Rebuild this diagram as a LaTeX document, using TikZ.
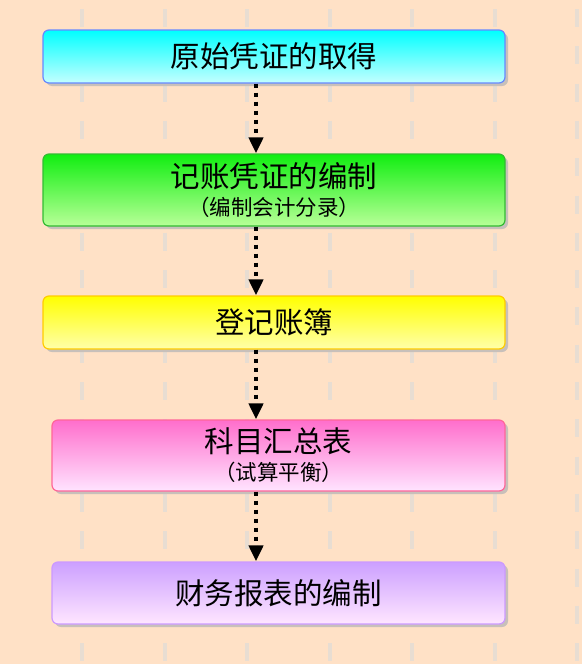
\documentclass[tikz,border=0pt]{standalone}
\usepackage{fontspec}
\newfontfamily\cjk{Noto Sans CJK SC}
\usetikzlibrary{arrows.meta,shadows}
\definecolor{bgc}{RGB}{255,225,198}
\definecolor{gridc}{RGB}{232,221,210}
\definecolor{shc}{RGB}{200,192,186}
\definecolor{c1t}{RGB}{0,255,255}
\definecolor{c1b}{RGB}{196,255,255}
\definecolor{c1d}{RGB}{102,136,255}
\definecolor{c2t}{RGB}{17,238,17}
\definecolor{c2b}{RGB}{184,255,152}
\definecolor{c2d}{RGB}{51,187,51}
\definecolor{c3t}{RGB}{255,255,0}
\definecolor{c3b}{RGB}{255,255,170}
\definecolor{c3d}{RGB}{255,204,0}
\definecolor{c4t}{RGB}{255,110,204}
\definecolor{c4b}{RGB}{255,228,255}
\definecolor{c4d}{RGB}{255,102,153}
\definecolor{c5t}{RGB}{204,160,255}
\definecolor{c5b}{RGB}{255,230,255}
\definecolor{c5d}{RGB}{204,153,255}
\begin{document}
\begin{tikzpicture}[x=1pt,y=-1pt,
  stepbox/.style={rounded corners=6pt, line width=1.2pt, inner sep=0pt,
    align=center, font=\cjk\fontsize{29.5}{28}\selectfont,
    drop shadow={shadow xshift=3pt, shadow yshift=-3pt, fill=shc, opacity=1}},
  flowarr/.style={line width=4pt, dash pattern=on 4pt off 5pt,
    -{Triangle[width=14pt,length=16pt]}},
  subfont/.style={}]
\fill[bgc] (0,0) rectangle (582,664);
\useasboundingbox (0,0) rectangle (582,664);
\foreach \x in {82,164.5,247,329.5,412,494.5,577}
  \draw[gridc, line width=4pt, dash pattern=on 18pt off 19.3pt] (\x,9) -- (\x,664);
\node[stepbox, draw=c1d, top color=c1t, bottom color=c1b,
  minimum width=462pt, minimum height=53pt] (b1) at (274,56.5) {原始凭证的取得};
\node[stepbox, draw=c2d, top color=c2t, bottom color=c2b,
  minimum width=462pt, minimum height=72pt] (b2) at (274,190)
  {记账凭证的编制\\{\fontsize{21.5}{28}\selectfont （编制会计分录）}};
\node[stepbox, draw=c3d, top color=c3t, bottom color=c3b,
  minimum width=462pt, minimum height=53pt] (b3) at (274,322.5) {登记账簿};
\node[stepbox, draw=c4d, top color=c4t, bottom color=c4b,
  minimum width=453pt, minimum height=71pt] (b4) at (278.5,455.5)
  {科目汇总表\\{\fontsize{21.5}{28}\selectfont （试算平衡）}};
\node[stepbox, draw=c5d, top color=c5t, bottom color=c5b,
  minimum width=453pt, minimum height=62pt] (b5) at (278.5,593) {财务报表的编制};
\coordinate (ax) at (256,0);
\draw[flowarr] (ax |- b1.south) -- (ax |- b2.north);
\draw[flowarr] (ax |- b2.south) -- (ax |- b3.north);
\draw[flowarr] (ax |- b3.south) -- (ax |- b4.north);
\draw[flowarr] (ax |- b4.south) -- (ax |- b5.north);
\end{tikzpicture}
\end{document}
